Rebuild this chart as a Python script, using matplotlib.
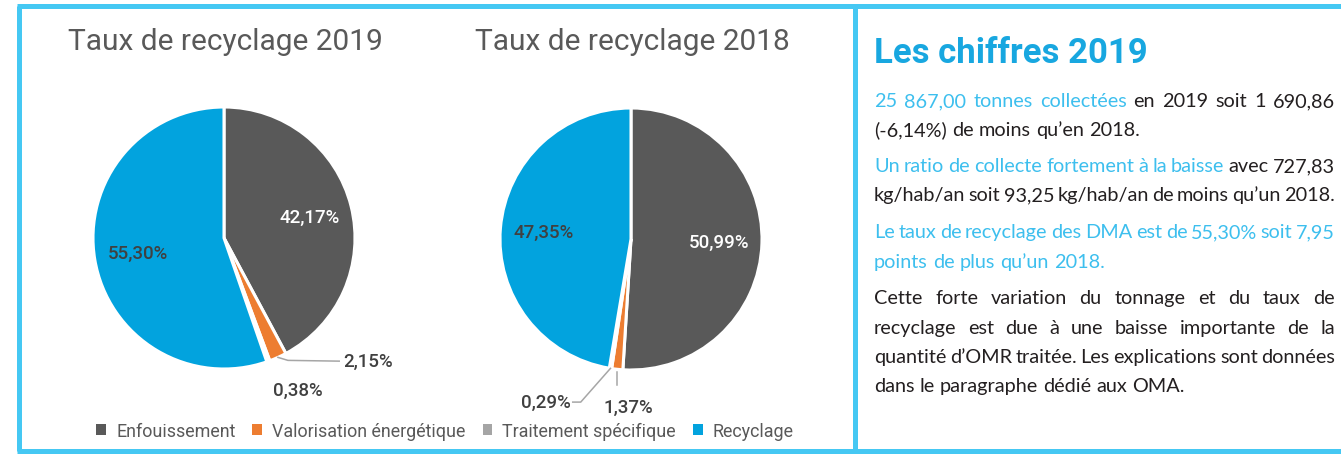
import numpy as np
import matplotlib
matplotlib.use("Agg")
import matplotlib.pyplot as plt

# ---- data ----
categories = ["Enfouissement", "Valorisation énergétique", "Traitement spécifique", "Recyclage"]
taux_2019 = [42.17, 2.15, 0.38, 55.30]
taux_2018 = [50.99, 1.37, 0.29, 47.35]
titles = ["Taux de recyclage 2019", "Taux de recyclage 2018"]

colors = ["#595959", "#ED7D31", "#A5A5A5", "#02A3DE"]
label_colors = ["white", "#404040", "#404040", "#404040"]

FRAME = "#45C8F3"
CYAN = "#3DBFEE"
BLUE_TITLE = "#18A7E0"
DARK = "#231F20"
GREY_TXT = "#595959"

W, H = 1341, 456
fig = plt.figure(figsize=(W / 100, H / 100), dpi=100)
ax = fig.add_axes([0, 0, 1, 1])
ax.set_xlim(0, W)
ax.set_ylim(0, H)
ax.axis("off")

def Y(y):
    return H - y

# frame
ax.plot([19.5, 19.5], [Y(6.5), Y(452)], color=FRAME, lw=3.6, solid_capstyle="butt")
ax.plot([17, W], [Y(6.5), Y(6.5)], color=FRAME, lw=3.6, solid_capstyle="butt")
ax.plot([17, W], [Y(452), Y(452)], color=FRAME, lw=3.6, solid_capstyle="butt")
ax.plot([855, 855], [Y(6.5), Y(452)], color=FRAME, lw=3.6, solid_capstyle="butt")

chart_font = "Roboto"
R = 131

def mid_point(w, frac):
    a = np.deg2rad((w.theta1 + w.theta2) / 2)
    cx, cy = w.center
    return cx + frac * w.r * np.cos(a), cy + frac * w.r * np.sin(a)

def draw_pie(vals, cx, cy):
    wedges, _ = ax.pie(vals, colors=colors, startangle=90, counterclock=False,
                       radius=R, center=(cx, Y(cy)),
                       wedgeprops=dict(edgecolor="white", linewidth=2.2))
    return wedges

def pct(v):
    return f"{v:.2f}".replace(".", ",") + "%"

# pie 2019
w19 = draw_pie(taux_2019, 224, 239)
# pie 2018
w18 = draw_pie(taux_2018, 631, 240)
ax.set_xlim(0, W)
ax.set_ylim(0, H)
ax.set_aspect("auto")

lab_fs = 13.5
lab_kw = dict(fontsize=lab_fs, family=chart_font, fontweight="medium")
for i in (0, 3):
    x, y = mid_point(w19[i], 0.67)
    ax.text(x, y, pct(taux_2019[i]), ha="center", va="center", color=label_colors[i], **lab_kw)
    x, y = mid_point(w18[i], 0.67)
    ax.text(x, y, pct(taux_2018[i]), ha="center", va="center", color=label_colors[i], **lab_kw)

lead = "#A6A6A6"
# 2019 small labels
cx, cy = w19[1].center
ex, ey = mid_point(w19[1], 1.0)
tx, ty = cx + 0.91 * R, cy - 0.94 * R
ax.plot([ex, ex + 10, tx - 4], [ey, ey - 3, ty], color=lead, lw=1.1)
ax.text(tx, ty, pct(taux_2019[1]), ha="left", va="center", color="#404040", **lab_kw)
ax.text(cx + 0.565 * R, cy - 1.16 * R, pct(taux_2019[2]), ha="center", va="center",
        color="#404040", **lab_kw)

# 2018 small labels
cx, cy = w18[2].center
ex, ey = mid_point(w18[2], 1.0)
tx, ty = cx - 0.46 * R, cy - 1.245 * R
ax.plot([ex, tx + 10, tx + 2], [ey, ty, ty], color=lead, lw=1.1)
ax.text(tx, ty, pct(taux_2018[2]), ha="right", va="center", color="#404040", **lab_kw)
ex, ey = mid_point(w18[1], 1.0)
ax.plot([ex, ex], [ey - 3, ey - 16], color=lead, lw=1.1)
ax.text(cx - 0.02 * R, cy - 1.28 * R, pct(taux_2018[1]), ha="center", va="center",
        color="#404040", **lab_kw)

# chart titles
ax.text(225, Y(50), titles[0], ha="center", va="baseline", fontsize=21.5,
        color=GREY_TXT, family=chart_font)
ax.text(632, Y(50), titles[1], ha="center", va="baseline", fontsize=21.5,
        color=GREY_TXT, family=chart_font)

# legend
leg = ax.legend(w19, categories, loc="center", bbox_to_anchor=(445 / W, 1 - 432 / H),
                ncol=4, frameon=False, handlelength=0.55, handleheight=0.55,
                handletextpad=0.55, columnspacing=0.95,
                prop={"family": chart_font, "size": 12.9})
for t in leg.get_texts():
    t.set_color(GREY_TXT)
for h in leg.legend_handles:
    h.set_edgecolor("none")

# ---- right panel ----
ax.text(874, Y(63), "Les chiffres 2019", ha="left", va="baseline", fontsize=25,
        fontweight="bold", color=BLUE_TITLE, family=chart_font)

body_lines = [
    ([("25 867,00 tonnes collectées", CYAN), ("en 2019 soit 1 690,86", DARK)], True),
    ([("(-6,14%) de moins qu’en 2018.", DARK)], False),
    ([("Un ratio de collecte fortement à la baisse", CYAN), ("avec 727,83", DARK)], True),
    ([("kg/hab/an soit 93,25 kg/hab/an de moins qu’un 2018.", DARK)], True),
    ([("Le taux de recyclage des DMA est de 55,30% soit 7,95", CYAN)], True),
    ([("points de plus qu’un 2018.", CYAN)], False),
    ([("Cette forte variation du tonnage et du taux de", DARK)], True),
    ([("recyclage est due à une baisse importante de la", DARK)], True),
    ([("quantité d’OMR traitée. Les explications sont données", DARK)], True),
    ([("dans le paragraphe dédié aux OMA.", DARK)], False),
]
line_y = [107, 136, 172, 201, 238, 268, 304, 334, 363, 392]

body_font = "Lato"
body_fs = 14.3
x0, x1 = 874, 1335
renderer = fig.canvas.get_renderer()
sp = ax.text(0, 0, "a a", fontsize=body_fs, family=body_font)
sp2 = ax.text(0, 0, "aa", fontsize=body_fs, family=body_font)
space_w = sp.get_window_extent(renderer).width - sp2.get_window_extent(renderer).width
sp.remove()
sp2.remove()

for (segs, justify), yb in zip(body_lines, line_y):
    words = []
    for s, c in segs:
        for wd in s.split(" "):
            words.append((wd, c))
    arts = []
    widths = []
    for wd, c in words:
        t = ax.text(0, Y(yb), wd, ha="left", va="baseline", fontsize=body_fs,
                    family=body_font, color=c)
        arts.append(t)
        widths.append(t.get_window_extent(renderer).width)
    if justify and len(words) > 1:
        gap = (x1 - x0 - sum(widths)) / (len(words) - 1)
    else:
        gap = space_w
    x = x0
    for t, wdt in zip(arts, widths):
        t.set_x(x)
        x += wdt + gap

fig.savefig("out.png", dpi=100)
